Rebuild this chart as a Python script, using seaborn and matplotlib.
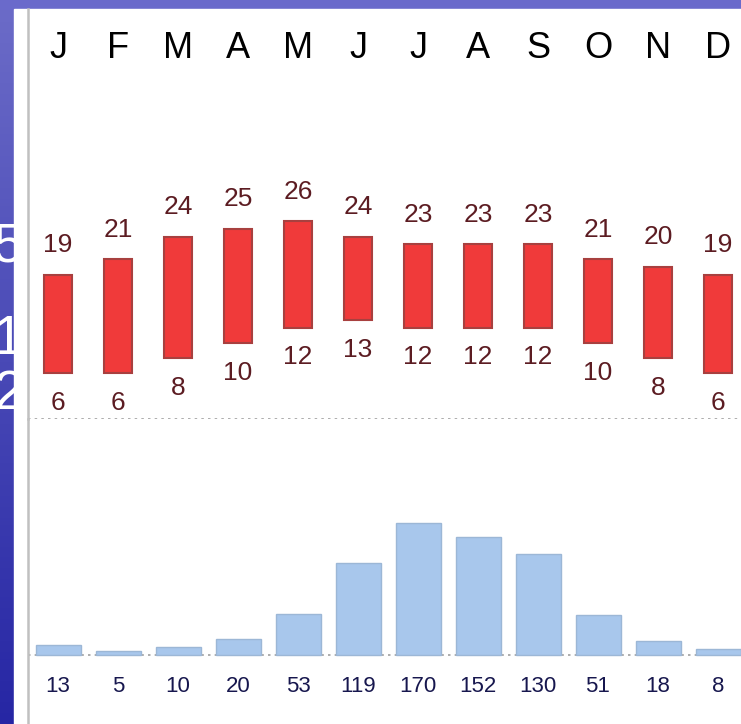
import numpy as np
import pandas as pd
import matplotlib
matplotlib.use("Agg")
import matplotlib.pyplot as plt
from matplotlib.patches import Rectangle
import seaborn as sns

# ── Duomenys ────────────────────────────────────────────────────────────────
months = ["J", "F", "M", "A", "M", "J", "J", "A", "S", "O", "N", "D"]
temp_max = [19, 21, 24, 25, 26, 24, 23, 23, 23, 21, 20, 19]
temp_min = [6, 6, 8, 10, 12, 13, 12, 12, 12, 10, 8, 6]
precip = [13, 5, 10, 20, 53, 119, 170, 152, 130, 51, 18, 8]

W, H = 741, 724
TEMP_ZERO = 419      # px nuo viršaus
PX_DEG = 7.6
PREC_ZERO = 655
PX_MM = 0.776
LEFT = 28

sns.set_style("white")
plt.rcParams["font.family"] = ["Liberation Sans", "DejaVu Sans"]

fig = plt.figure(figsize=(W / 100, H / 100), dpi=100)

# ── Fonas: mėlynas kraštas + baltas laukas ─────────────────────────────────
bg = fig.add_axes([0, 0, 1, 1], zorder=-1)
bg.set_xlim(0, W)
bg.set_ylim(H, 0)
bg.axis("off")
top_c = np.array([0x6c, 0x6c, 0xc8]) / 255
bot_c = np.array([0x26, 0x26, 0xa4]) / 255
grad = np.linspace(0, 1, 200)[:, None, None] * (bot_c - top_c) + top_c
bg.imshow(grad, extent=[0, 14, H, 0], aspect="auto", zorder=1)
bg.add_patch(Rectangle((0, 0), W, 9, color="#6a6acb", zorder=1))
# fragmentai iš skaidrės už diagramos
for s, yy in [("5", 248), ("1", 340), ("2", 395)]:
    bg.text(24, yy, s, color="white", fontsize=40, ha="right", va="center", zorder=2)
bg.add_patch(Rectangle((14, 9), W - 14, H - 9, color="white", zorder=4))

# ── Temperatūros ────────────────────────────────────────────────────────────
x = np.arange(12)
xmin = -0.5
xmax = xmin + (W - LEFT) / 60

ax_t = fig.add_axes([LEFT / W, (H - TEMP_ZERO) / H, (W - LEFT) / W, (TEMP_ZERO - 9) / H])
ax_t.patch.set_alpha(0)
ax_t.bar(x, np.array(temp_max) - np.array(temp_min), bottom=temp_min, width=0.48,
         color="#f03a3a", edgecolor="#a8403f", linewidth=1.5)
ax_t.axhline(0, color="#a0a0a0", linestyle=(0, (1.5, 2.5)), linewidth=1.2)
for i in x:
    ax_t.text(i, temp_max[i] + 3.9, str(temp_max[i]), ha="center", va="center",
              fontsize=19, color="#5c1c22")
    ax_t.text(i, temp_min[i] - 3.9, str(temp_min[i]), ha="center", va="center",
              fontsize=19, color="#5c1c22")
    ax_t.text(i, (TEMP_ZERO - 48) / PX_DEG, months[i], ha="center", va="center",
              fontsize=26, color="black")
ax_t.set_xlim(xmin, xmax)
ax_t.set_ylim(0, (TEMP_ZERO - 9) / PX_DEG)

# ── Krituliai ───────────────────────────────────────────────────────────────
df = pd.DataFrame({"m": x, "precip": precip})
ax_p = fig.add_axes([LEFT / W, 0, (W - LEFT) / W, (H - TEMP_ZERO) / H])
ax_p.patch.set_alpha(0)
sns.barplot(data=df, x="m", y="precip", color="#a8c7ec", saturation=1, width=0.75,
            edgecolor="#9cb7d6", linewidth=1, ax=ax_p)
ax_p.axhline(0, color="#a0a0a0", linestyle=(0, (1.5, 2.5)), linewidth=1.2, zorder=0)
for i in x:
    ax_p.text(i, -(687 - PREC_ZERO) / PX_MM, str(precip[i]), ha="center", va="center",
              fontsize=16, color="#17174e")
ax_p.set_xlim(xmin, xmax)
ax_p.set_ylim(-(H - PREC_ZERO) / PX_MM, (PREC_ZERO - TEMP_ZERO) / PX_MM)

for ax in (ax_t, ax_p):
    ax.set_xticks([])
    ax.set_yticks([])
    ax.set_xlabel("")
    ax.set_ylabel("")
    for side in ("top", "right", "bottom"):
        ax.spines[side].set_visible(False)
    ax.spines["left"].set_color("#c0c0c0")
    ax.spines["left"].set_linewidth(1.8)

plt.savefig("out.png", dpi=100)
plt.close()
